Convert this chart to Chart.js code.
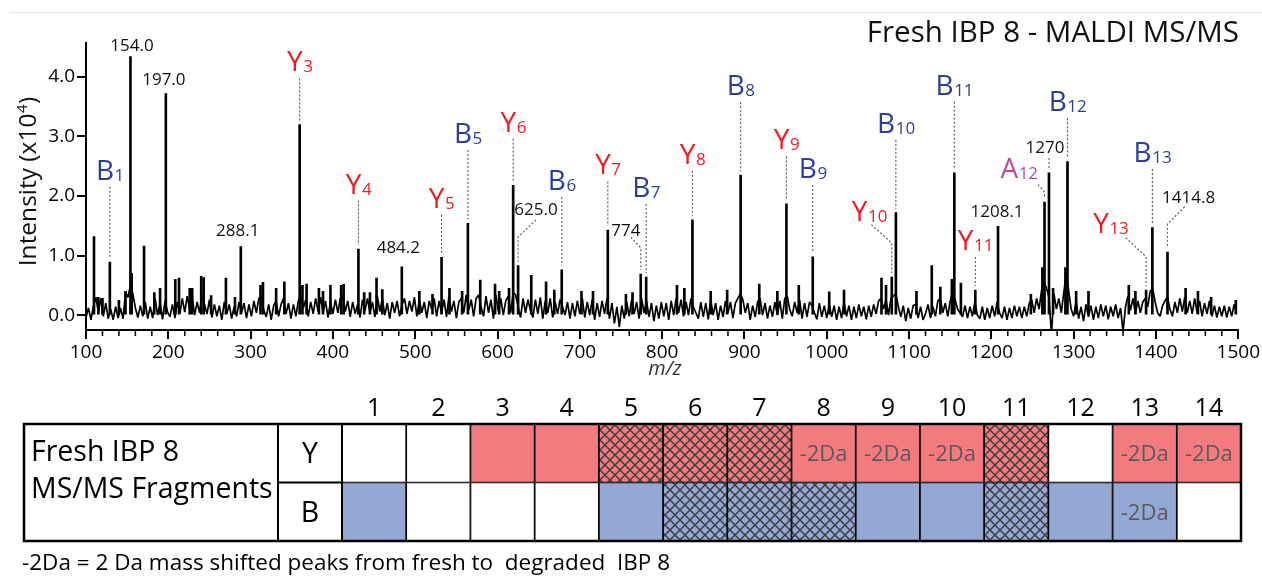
<!DOCTYPE html>
<html lang="en">
<head>
<meta charset="UTF-8">
<title>Fresh IBP 8 - MALDI MS/MS</title>
<script src="https://cdn.jsdelivr.net/npm/chart.js"></script>
<style>
  body { margin: 0; background: #fff; }
  canvas { display: block; }
</style>
</head>
<body>
<canvas id="spectrum" width="1262" height="390"></canvas>
<canvas id="fragments" width="1262" height="188"></canvas>

<script>
// ---- spectrum data (intensity in x10^4) ----
const peakMz = [
  109.7, 115, 120, 129, 140, 148, 154, 155.5, 170.5, 183, 190, 197, 208.5, 213, 226, 229, 240, 243, 252, 270,
  281, 288.1, 312, 315, 331, 341, 359.6, 363, 368, 383, 388, 397, 410, 413, 431, 438, 445, 453, 460, 483.7,
  505, 521, 532, 541.6, 557, 564, 579, 597, 602, 614, 619, 625, 641, 659, 669, 678, 702, 716, 734, 756,
  764, 774, 780.6, 818, 827, 836.8, 859, 879, 895.4, 918, 940, 951, 966, 983, 1003, 1021, 1066.5, 1072, 1079, 1084,
  1109, 1127.6, 1138, 1152, 1155, 1163, 1180.5, 1208.1, 1248, 1262, 1264.6, 1270, 1275, 1290, 1292.5, 1303, 1318, 1367, 1375, 1388,
  1395.6, 1414, 1436, 1451, 1467, 1497
];
const peakInt = [
  1.32, 0.30, 0.28, 0.89, 0.25, 0.40, 4.34, 0.70, 1.16, 0.38, 0.45, 3.72, 0.60, 0.62, 0.45, 0.45, 0.65, 0.63, 0.33, 0.62,
  0.30, 1.15, 0.50, 0.55, 0.45, 0.56, 3.20, 0.50, 0.52, 0.45, 0.40, 0.50, 0.50, 0.52, 1.11, 0.38, 0.38, 0.62, 0.43, 0.81,
  0.40, 0.35, 0.97, 0.45, 0.40, 1.54, 0.59, 0.52, 0.40, 0.45, 2.18, 0.83, 0.67, 0.56, 0.42, 0.76, 0.40, 0.40, 1.43, 0.35,
  0.38, 0.69, 0.64, 0.50, 0.45, 1.60, 0.40, 0.42, 2.35, 0.52, 0.40, 1.87, 0.50, 0.98, 0.39, 0.42, 0.62, 0.50, 0.64, 1.72,
  0.40, 0.83, 0.47, 0.60, 2.39, 0.54, 0.42, 1.49, 0.35, 0.80, 1.90, 2.39, 0.45, 0.80, 2.58, 0.40, 0.40, 0.50, 0.40, 0.42,
  1.47, 1.06, 0.45, 0.40, 0.30, 0.25
];

// baseline trace, one reading every 3 m/z starting at 100
const noiseStart = 100;
const noiseStep = 3;
const noise = [
  -.04,.12,-.08,.15,.30,.05,.28,-.02,.20,-.06,.10,-.08,.14,-.05,.12,-.06,.38,.30,.50,.35,
  .12,-.04,.16,-.02,.22,-.06,.14,-.05,.28,.00,.20,-.07,.24,.06,-.03,.18,-.05,.22,.02,.28,
  .05,.32,.10,.30,.00,.22,.04,.34,.18,.02,.26,-.04,.18,-.02,.16,-.08,.22,.02,.18,-.06,
  .14,-.02,.22,.04,.20,-.05,.18,-.02,.24,.04,.28,.32,.08,-.03,.18,-.08,.16,.24,-.02,.18,
  .28,.02,.20,-.06,.18,-.02,.24,.34,.12,.26,-.02,.22,.02,.28,.06,.30,.04,.24,-.04,.22,
  .02,.26,.04,.28,.34,.06,.24,-.03,.22,.02,.18,-.04,.26,.08,.28,.04,.22,-.03,.32,.06,
  .28,.00,.20,-.06,.22,.04,.24,-.02,.18,.28,.02,.24,.06,.30,-.02,.26,.04,.22,-.05,.24,
  .10,.28,-.02,.24,.04,.26,-.03,.32,.06,.24,-.05,.22,.28,.04,.34,.08,.26,-.02,.28,.34,
  .14,-.02,.32,.04,.26,-.06,.34,.06,.28,.00,.24,.32,.04,.38,.34,.14,-.04,.28,.04,.26,
  .08,-.04,.26,.02,.30,-.06,.24,.04,.28,-.04,.22,.02,.26,.14,.00,.22,-.06,.20,-.02,.24,
  .02,.28,-.04,.22,.00,.26,-.08,.20,-.03,.24,.02,.28,-.06,.20,-.14,.14,-.20,.16,-.06,.22,
  -.02,.26,.02,.22,-.06,.28,.04,.24,-.03,.20,-.10,.16,-.06,.22,-.02,.20,-.08,.24,.00,.28,
  .04,.26,-.02,.22,.00,.28,.14,.04,-.06,.22,-.03,.20,-.07,.26,.00,.20,-.08,.16,-.03,.24,
  .04,.22,-.05,.20,.28,.36,.26,.04,.20,-.08,.16,-.03,.22,.28,.00,.20,-.06,.16,-.03,.22,
  .00,.24,-.06,.28,.32,.10,-.02,.22,.04,.26,-.06,.20,-.03,.22,.16,.04,-.07,.20,-.03,.16,
  -.05,.18,-.03,.16,-.08,.14,-.05,.22,-.02,.16,-.08,.14,-.05,.18,-.02,.14,-.07,.16,-.03,.18,
  .02,.24,.28,.10,.26,.00,.28,.32,.36,.14,-.03,.16,-.10,.12,-.06,.16,.18,-.05,.14,-.08,
  .02,.18,-.05,.14,-.02,.24,.28,.04,.20,-.02,.24,.38,.26,.10,.04,-.03,.16,-.05,.14,-.02,
  .22,.00,-.06,.14,-.08,.12,-.05,.16,-.02,.22,.04,-.05,.14,-.08,.12,-.05,.16,-.02,.14,-.05,
  .14,-.02,.20,.26,.04,.28,.10,.42,.55,.45,.30,-.32,.36,.10,.28,.04,.38,.70,.40,.10,
  -.02,.24,-.06,.14,-.10,.18,-.03,.16,-.08,.14,-.05,.18,-.02,.16,-.07,.14,-.02,.18,-.05,.12,
  -.28,.14,.32,.08,.28,.02,.24,.04,.22,.28,.14,.40,.45,.22,.04,-.02,.16,.24,.30,.10,
  -.02,.22,.04,.28,.06,.30,.04,.24,.02,.28,.04,.24,-.02,.20,.02,.24,-.02,.16,-.04,.14,
  -.02,.16,-.04,.14,-.02,.18,.04
];

const yTicks = [0, 1, 2, 3, 4];

// ---- fragment coverage table ----
const positions = ['1','2','3','4','5','6','7','8','9','10','11','12','13','14'];
const yIons = ['none','none','fill','fill','hatch','hatch','hatch','shift','shift','shift','hatch','none','shift','shift'];
const bIons = ['fill','none','none','none','fill','hatch','hatch','hatch','fill','fill','hatch','fill','shift','none'];

// ---- annotations (label anchors in data units) ----
const ionLabels = [
  { mz: 129, ion: 'B', n: '1', ly: 2.44 },
  { mz: 359.6, ion: 'Y', n: '3', ly: 4.26 },
  { mz: 431, ion: 'Y', n: '4', ly: 2.21 },
  { mz: 532, ion: 'Y', n: '5', ly: 1.97 },
  { mz: 564, ion: 'B', n: '5', ly: 3.06 },
  { mz: 619, ion: 'Y', n: '6', ly: 3.25 },
  { mz: 678, ion: 'B', n: '6', ly: 2.27 },
  { mz: 734, ion: 'Y', n: '7', ly: 2.53 },
  { mz: 780.6, ion: 'B', n: '7', ly: 2.15 },
  { mz: 836.8, ion: 'Y', n: '8', ly: 2.71 },
  { mz: 895.4, ion: 'B', n: '8', ly: 3.86 },
  { mz: 951, ion: 'Y', n: '9', ly: 2.95 },
  { mz: 983, ion: 'B', n: '9', ly: 2.47 },
  { mz: 1079, ion: 'Y', n: '10', ly: 1.75, lx: 1051.7, bend: [[1054.2, 1.52], [1079, 1.21]] },
  { mz: 1084, ion: 'B', n: '10', ly: 3.23 },
  { mz: 1155, ion: 'B', n: '11', ly: 3.87 },
  { mz: 1180.5, ion: 'Y', n: '11', ly: 1.26 },
  { mz: 1264.6, ion: 'A', n: '12', ly: 2.47, lx: 1233.6, bend: [[1256.6, 2.19], [1264.6, 2.07]] },
  { mz: 1292.5, ion: 'B', n: '12', ly: 3.59 },
  { mz: 1388, ion: 'Y', n: '13', ly: 1.55, lx: 1345.1, bend: [[1363.3, 1.30], [1388, 0.98]] },
  { mz: 1395.6, ion: 'B', n: '13', ly: 2.74 }
];
const mzLabels = [
  { text: '154.0', lx: 155.8, ly: 4.53 },
  { text: '197.0', lx: 194.6, ly: 3.96 },
  { text: '288.1', lx: 284.3, ly: 1.43 },
  { text: '484.2', lx: 479.5, ly: 1.14 },
  { text: '625.0', lx: 646.8, ly: 1.78, mz: 625, bend: [[646.8, 1.60], [625, 1.31]] },
  { text: '774', lx: 755.9, ly: 1.43, mz: 774, bend: [[762.0, 1.31], [774, 1.13]] },
  { text: '1208.1', lx: 1206.9, ly: 1.75 },
  { text: '1270', lx: 1265.1, ly: 2.83, mz: 1270, bend: [[1270, 2.64]] },
  { text: '1414.8', lx: 1439.7, ly: 1.99, mz: 1414, bend: [[1434.9, 1.82], [1414, 1.53]] }
];

const FONT = "'Open Sans', sans-serif";
const ionColor = { B: '#2c3e97', Y: '#ec1c24', A: '#b5509d' };
const cellColor = { Y: '#f37b7f', B: '#94a8d4' };

function dotted(ctx, pts) {
  ctx.save();
  ctx.strokeStyle = '#555';
  ctx.lineWidth = 1.1;
  ctx.setLineDash([2, 2]);
  ctx.beginPath();
  pts.forEach((p, i) => i ? ctx.lineTo(p[0], p[1]) : ctx.moveTo(p[0], p[1]));
  ctx.stroke();
  ctx.restore();
}

function drawIon(ctx, cx, cy, ion, n) {
  ctx.font = `28px ${FONT}`;
  const w1 = ctx.measureText(ion).width;
  ctx.font = `17px ${FONT}`;
  const w2 = ctx.measureText(n).width;
  const x0 = cx - (w1 + w2) / 2, base = cy + 10;
  ctx.fillStyle = ionColor[ion];
  ctx.textAlign = 'left';
  ctx.textBaseline = 'alphabetic';
  ctx.font = `28px ${FONT}`;
  ctx.fillText(ion, x0, base);
  ctx.font = `17px ${FONT}`;
  ctx.fillText(n, x0 + w1 + 0.5, base + 1);
}

const spectrumLabels = {
  id: 'spectrumLabels',
  afterDraw(chart) {
    const { ctx, chartArea: a, scales: { x, y } } = chart;
    const px = m => x.getPixelForValue(m);
    const py = v => y.getPixelForValue(v);
    const topOf = m => py(peakInt[peakMz.indexOf(m)]) - 4;
    ctx.save();

    // faint rule along the top
    ctx.strokeStyle = '#e6e6e6';
    ctx.lineWidth = 1;
    ctx.beginPath(); ctx.moveTo(10, 12.5); ctx.lineTo(chart.width, 12.5); ctx.stroke();

    // minor ticks every 20
    ctx.strokeStyle = '#000';
    ctx.lineWidth = 1.5;
    ctx.beginPath();
    for (let v = 120; v < 1500; v += 20) {
      if (v % 100 === 0) continue;
      ctx.moveTo(px(v), a.bottom);
      ctx.lineTo(px(v), a.bottom + 6);
    }
    ctx.stroke();

    // ion labels with dotted leaders
    ionLabels.forEach(l => {
      const cx = px(l.lx ?? l.mz), cy = py(l.ly);
      const pts = l.bend
        ? [...l.bend.map(([m, v]) => [px(m), py(v)]), [px(l.mz), topOf(l.mz)]]
        : [[cx, cy + 17], [cx, topOf(l.mz)]];
      dotted(ctx, pts);
      drawIon(ctx, cx, cy, l.ion, l.n);
    });

    // m/z value labels
    ctx.font = `17px ${FONT}`;
    ctx.textAlign = 'center';
    ctx.textBaseline = 'alphabetic';
    mzLabels.forEach(l => {
      if (l.bend) dotted(ctx, [...l.bend.map(([m, v]) => [px(m), py(v)]), [px(l.mz), topOf(l.mz)]]);
      ctx.fillStyle = '#111';
      ctx.fillText(l.text, px(l.lx), py(l.ly) + 6);
    });

    // title
    ctx.fillStyle = '#111';
    ctx.font = `29.5px ${FONT}`;
    ctx.textAlign = 'right';
    ctx.fillText('Fresh IBP 8 - MALDI MS/MS', 1239, 42);

    // x title
    ctx.font = `italic 20px ${FONT}`;
    ctx.textAlign = 'center';
    ctx.fillStyle = '#333';
    ctx.fillText('m/z', 665, 375);

    // y title with superscript
    ctx.translate(36, 182);
    ctx.rotate(-Math.PI / 2);
    ctx.fillStyle = '#111';
    ctx.textAlign = 'left';
    const t1 = 'Intensity (x10', t2 = '4', t3 = ')';
    ctx.font = `24.5px ${FONT}`;
    const w1 = ctx.measureText(t1).width, w3 = ctx.measureText(t3).width;
    ctx.font = `15px ${FONT}`;
    const w2 = ctx.measureText(t2).width;
    const sx = -(w1 + w2 + w3) / 2;
    ctx.font = `24.5px ${FONT}`;
    ctx.fillText(t1, sx, 0);
    ctx.font = `15px ${FONT}`;
    ctx.fillText(t2, sx + w1 + 0.5, -9);
    ctx.font = `24.5px ${FONT}`;
    ctx.fillText(t3, sx + w1 + w2 + 1, 0);
    ctx.restore();
  }
};

new Chart(document.getElementById('spectrum'), {
  type: 'line',
  data: {
    datasets: [
      {
        type: 'line',
        data: noise.map((v, i) => ({ x: noiseStart + i * noiseStep, y: v })),
        borderColor: '#000',
        borderWidth: 1.7,
        borderJoinStyle: 'bevel',
        pointRadius: 0,
        tension: 0
      },
      {
        type: 'bar',
        data: peakMz.map((m, i) => ({ x: m, y: [0, peakInt[i]] })),
        backgroundColor: '#000',
        barThickness: 2,
        grouped: false
      }
    ]
  },
  options: {
    responsive: false,
    animation: false,
    devicePixelRatio: 1,
    layout: { padding: { top: 43, right: 21, left: 0, bottom: 0 } },
    plugins: { legend: { display: false }, tooltip: { enabled: false } },
    scales: {
      x: {
        type: 'linear', min: 100, max: 1500, offset: false,
        border: { display: true, color: '#000', width: 2 },
        grid: { display: true, drawOnChartArea: false, tickLength: 9, color: '#000', lineWidth: 2, offset: false },
        ticks: {
          stepSize: 100, autoSkip: false, maxRotation: 0, padding: 2, color: '#000',
          font: { family: FONT, size: 19 }, callback: v => String(v)
        },
        afterFit: s => { s.height = 60; }
      },
      y: {
        type: 'linear', min: -0.25, max: 4.57,
        border: { display: true, color: '#000', width: 2 },
        grid: { display: true, drawOnChartArea: false, tickLength: 9, color: '#000', lineWidth: 2 },
        ticks: { padding: 2, color: '#000', font: { family: FONT, size: 19 }, callback: v => v.toFixed(1) },
        afterBuildTicks: s => { s.ticks = yTicks.map(v => ({ value: v })); },
        afterFit: s => { s.width = 86; }
      }
    }
  },
  plugins: [spectrumLabels]
});

// ---- fragment table ----
function hatchPattern(base) {
  const c = document.createElement('canvas');
  c.width = c.height = 10;
  const g = c.getContext('2d');
  g.fillStyle = base;
  g.fillRect(0, 0, 10, 10);
  g.strokeStyle = '#3b3b3b';
  g.lineWidth = 1.4;
  g.beginPath();
  g.moveTo(-1, -1); g.lineTo(11, 11);
  g.moveTo(11, -1); g.lineTo(-1, 11);
  g.stroke();
  return g.createPattern(c, 'repeat');
}

function cellFill(status, base) {
  if (status === 'none') return '#ffffff';
  if (status === 'hatch') return hatchPattern(base);
  return base;
}

const tableFrame = {
  id: 'tableFrame',
  afterDraw(chart) {
    const { ctx, chartArea: a, scales: { x, y } } = chart;
    const left = 24, split = 278, mid = y.getPixelForValue(1);
    ctx.save();

    // column numbers
    ctx.fillStyle = '#000';
    ctx.font = `25px ${FONT}`;
    ctx.textAlign = 'center';
    ctx.textBaseline = 'alphabetic';
    positions.forEach((p, i) => ctx.fillText(p, x.getPixelForValue(i), a.top - 8));

    // mass-shift markers
    ctx.fillStyle = '#5a5a5a';
    ctx.font = `22px ${FONT}`;
    [[yIons, 1.5], [bIons, 0.5]].forEach(([row, v]) => row.forEach((s, i) => {
      if (s === 'shift') ctx.fillText('-2Da', x.getPixelForValue(i), y.getPixelForValue(v) + 8);
    }));

    ctx.strokeStyle = '#000';
    ctx.lineWidth = 2;
    ctx.beginPath();
    ctx.moveTo(split, a.top); ctx.lineTo(split, a.bottom);
    ctx.moveTo(a.left, a.top); ctx.lineTo(a.left, a.bottom);
    ctx.moveTo(split, mid); ctx.lineTo(a.left, mid);
    ctx.stroke();
    ctx.lineWidth = 2.5;
    ctx.strokeRect(left, a.top, a.right - left, a.bottom - a.top);

    ctx.fillStyle = '#000';
    ctx.font = `28.5px ${FONT}`;
    ctx.textAlign = 'left';
    ctx.fillText('Fresh IBP 8', 31, a.top + 37);
    ctx.fillText('MS/MS Fragments', 31, a.top + 74);
    ctx.textAlign = 'center';
    ctx.fillText('Y', (split + a.left) / 2, y.getPixelForValue(1.5) + 10);
    ctx.fillText('B', (split + a.left) / 2, y.getPixelForValue(0.5) + 10);

    ctx.textAlign = 'left';
    ctx.font = `22.5px ${FONT}`;
    ctx.fillText('-2Da = 2 Da mass shifted peaks from fresh to  degraded  IBP 8', 22, chart.height - 8);
    ctx.restore();
  }
};

new Chart(document.getElementById('fragments'), {
  type: 'bar',
  data: {
    labels: positions,
    datasets: [
      {
        label: 'Y',
        data: yIons.map(() => [1, 2]),
        backgroundColor: yIons.map(s => cellFill(s, cellColor.Y)),
        borderColor: '#000', borderWidth: 1.2, borderSkipped: false, grouped: false,
        categoryPercentage: 1, barPercentage: 1
      },
      {
        label: 'B',
        data: bIons.map(() => [0, 1]),
        backgroundColor: bIons.map(s => cellFill(s, cellColor.B)),
        borderColor: '#000', borderWidth: 1.2, borderSkipped: false, grouped: false,
        categoryPercentage: 1, barPercentage: 1
      }
    ]
  },
  options: {
    responsive: false,
    animation: false,
    devicePixelRatio: 1,
    layout: { padding: { left: 342, right: 21, top: 0, bottom: 37 } },
    plugins: { legend: { display: false }, tooltip: { enabled: false } },
    scales: {
      x: {
        position: 'top',
        grid: { display: false },
        border: { display: false },
        ticks: { display: false },
        afterFit: s => { s.height = 34; }
      },
      y: { display: false, min: 0, max: 2 }
    }
  },
  plugins: [tableFrame]
});
</script>
</body>
</html>
